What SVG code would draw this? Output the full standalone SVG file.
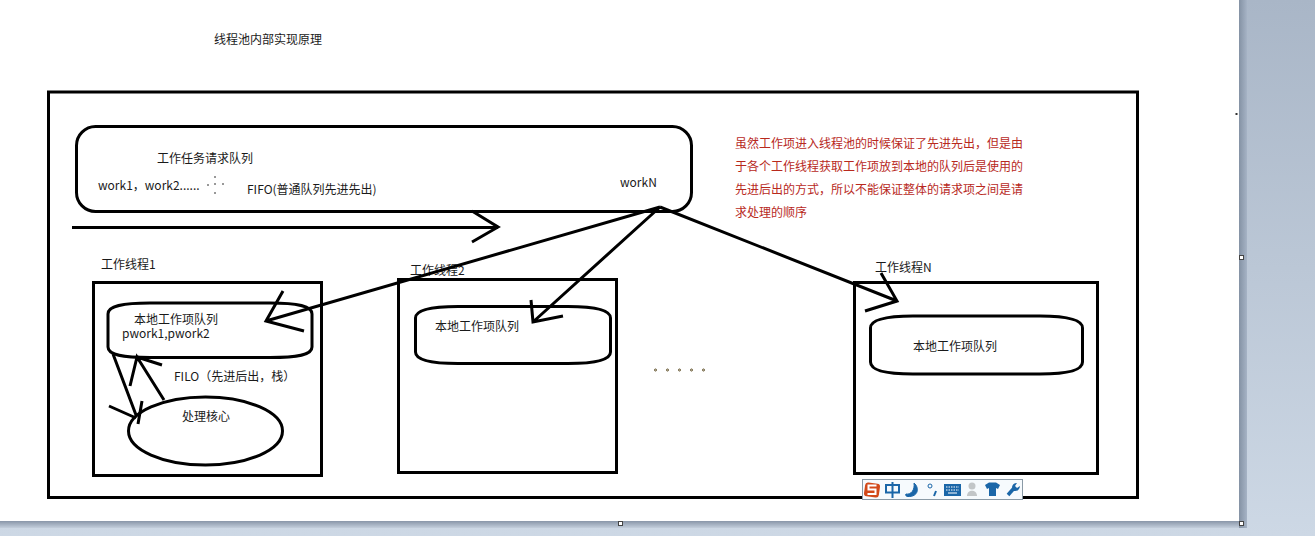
<svg xmlns="http://www.w3.org/2000/svg" width="1315" height="536" viewBox="0 0 1315 536">
<style>
.s{fill:none;stroke:#000;stroke-width:3}
.t{font-family:"Noto Sans CJK SC","Liberation Sans",sans-serif;font-size:12px;fill:#1a1a1a}
.r{font-family:"Noto Sans CJK SC","Liberation Sans",sans-serif;font-size:12px;fill:#b8291d}
.h{fill:#fff;stroke:#444;stroke-width:1}
.i{fill:#1a66a8}
</style>
<defs>
<linearGradient id="bg" x1="0" y1="0" x2="0" y2="1"><stop offset="0" stop-color="#a9b6c7"/><stop offset="1" stop-color="#cdd8e5"/></linearGradient>
<linearGradient id="sv" x1="0" y1="0" x2="1" y2="0"><stop offset="0" stop-color="#8492a4"/><stop offset="1" stop-color="#a6b3c5"/></linearGradient>
<linearGradient id="sh" x1="0" y1="0" x2="0" y2="1"><stop offset="0" stop-color="#8996a8"/><stop offset="1" stop-color="#c3cedc"/></linearGradient>
</defs>
<g id="page">
<rect width="1315" height="536" fill="url(#bg)"/>
<rect x="0" y="521" width="1247" height="7" fill="url(#sh)"/>
<rect x="1239" y="0" width="8" height="528" fill="url(#sv)"/>
<rect width="1239" height="521" fill="#fff"/>
<rect x="1235.500" y="113" width="2" height="2" fill="#333"/>
<rect class="h" x="1239.500" y="255.500" width="4" height="4"/>
<rect class="h" x="1239.500" y="521.500" width="4" height="4"/>
<rect class="h" x="618.500" y="521.500" width="4" height="4"/>
</g>
<text class="t" x="214" y="44">线程池内部实现原理</text>
<g id="frame"><rect class="s" x="48.500" y="92" width="1089" height="405.500"/></g>
<g id="request-queue">
<rect class="s" x="76.500" y="126.500" width="615" height="85" rx="19"/>
<text class="t" x="157" y="163">工作任务请求队列</text>
<text class="t" x="98" y="190">work1，work2......</text>
<path d="M207 185h2M215 176v2M215 183v2M215 192v2M222 184h2" stroke="#333" fill="none" stroke-width="1"/>
<text class="t" x="247" y="194">FIFO(普通队列先进先出)</text>
<text class="t" x="620" y="187">workN</text>
</g>
<g id="note">
<text class="r" x="735" y="148">虽然工作项进入线程池的时候保证了先进先出，但是由</text>
<text class="r" x="735" y="171">于各个工作线程获取工作项放到本地的队列后是使用的</text>
<text class="r" x="735" y="194">先进后出的方式，所以不能保证整体的请求项之间是请</text>
<text class="r" x="735" y="217">求处理的顺序</text>
</g>
<g id="worker-1">
<text class="t" x="101" y="269">工作线程1</text>
<rect class="s" x="93.500" y="282.500" width="228" height="193"/>
<path class="s" d="M108 314C108 306 122 303 150 303H270C298 303 312 306 312 314V347C312 355 298 357.500 270 357.500H150C122 357.500 108 355 108 347Z"/>
<text class="t" x="134" y="324">本地工作项队列<tspan x="122" y="338">pwork1,pwork2</tspan></text>
<text class="t" x="174" y="381">FILO（先进后出，栈）</text>
<g id="core">
<ellipse class="s" cx="205.500" cy="431" rx="77" ry="34"/>
<text class="t" x="182" y="421">处理核心</text>
</g>
</g>
<g id="worker-2">
<text class="t" x="410" y="275">工作线程2</text>
<rect class="s" x="398.500" y="279.500" width="218" height="193"/>
<path class="s" d="M415.500 318C415.500 310 430 306.500 458 306.500H568C596 306.500 610.500 310 610.500 318V352C610.500 360 596 363.500 568 363.500H458C430 363.500 415.500 360 415.500 352Z"/>
<text class="t" x="435" y="331">本地工作项队列</text>
</g>
<g id="dots" fill="none" stroke="#5a4a20" stroke-width="1">
<circle cx="655.500" cy="370" r="1"/><circle cx="667.500" cy="370" r="1"/><circle cx="679.500" cy="370" r="1"/><circle cx="691.500" cy="370" r="1"/><circle cx="703.500" cy="370" r="1"/>
</g>
<g id="worker-n">
<text class="t" x="875" y="272">工作线程N</text>
<rect class="s" x="854.500" y="282.500" width="243" height="191"/>
<path class="s" d="M870.500 328C870.500 320 885 316 913 316H1040C1068 316 1082.500 320 1082.500 328V362C1082.500 370 1068 374 1040 374H913C885 374 870.500 370 870.500 362Z"/>
<text class="t" x="913" y="351">本地工作项队列</text>
</g>
<g id="connectors">
<path class="s" d="M72 227.500H498M472 211L498 227L472 242"/>
<path class="s" d="M660 207L266 321M283 291L266 321L304 331"/>
<path class="s" d="M660 207L533 322M531 300L533 322L563 316"/>
<path class="s" d="M660 207L897 301M881 273L897 301L865 311"/>
<path class="s" d="M164 400L137 357L130 386M137 357L162 365"/>
<path class="s" d="M113 354L136 415M109 406L136 418M142 401L138 424"/>
</g>
<g id="ime">
<rect x="862.500" y="479.500" width="160" height="20" fill="#f6fafd" stroke="#8a9aa6"/>
<rect x="864.500" y="483" width="15" height="14" rx="3" fill="#d2491a" transform="rotate(8 872 490)"/>
<path d="M876.500 485.500h-8v4h7v4.500h-8" fill="none" stroke="#fff" stroke-width="2"/>
<rect x="886" y="485" width="13" height="7.500" fill="none" stroke="#1a66a8" stroke-width="2"/>
<rect x="891.500" y="482" width="2" height="16" class="i"/>
<path class="i" d="M914 483C920 488 918 497 908 496.500C906 496.500 905 495 906 494C911 495 915 490 914 483Z" stroke="#1a66a8"/>
<circle cx="930" cy="486" r="2" fill="none" stroke="#1a66a8"/>
<path d="M936 491L934 496" stroke="#1a66a8" stroke-width="2"/>
<rect x="944" y="484" width="17" height="12" class="i"/>
<path d="M946 487h13M946 490h13" stroke="#fff" stroke-dasharray="1.500 1"/>
<path d="M948 493h9" stroke="#fff"/>
<circle cx="972" cy="486" r="3.500" fill="#c2c6c8"/>
<path d="M967 496c0-7 10-7 10 0z" fill="#c2c6c8"/>
<path class="i" d="M985 485l4-2.500h7l4 2.500-2 4-2-1v8h-7v-8l-2 1z"/>
<path d="M1008 495l7-8" stroke="#1a66a8" stroke-width="3.500" fill="none"/>
<path d="M1012 487a5 5 0 0 1 5-4l-2 3 2 2 3-2a5 5 0 0 1-6 5z" class="i"/>
</g>
</svg>
